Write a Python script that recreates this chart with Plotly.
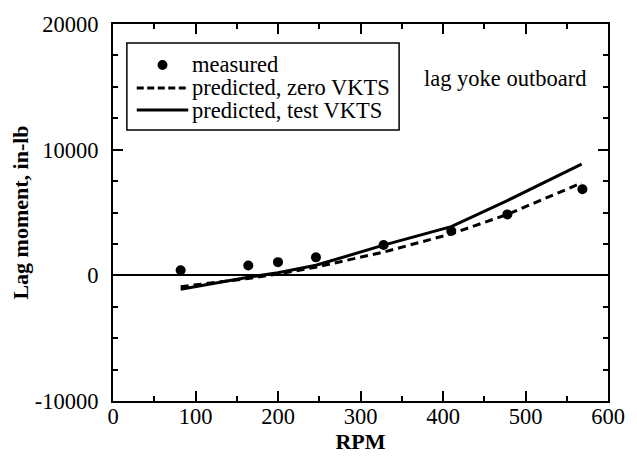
import plotly.graph_objects as go

rpm_measured = [82, 164, 200, 246, 328, 410, 478, 569]
moment_measured = [400, 780, 1050, 1430, 2420, 3530, 4850, 6850]

rpm_pred = [82, 164, 200, 246, 328, 410, 478, 568]
moment_zero_vkts = [-900, -250, 100, 650, 1850, 3300, 4850, 7350]
moment_test_vkts = [-1100, -150, 200, 800, 2400, 3870, 5950, 8850]

series_names = ["measured", "predicted, zero VKTS", "predicted, test VKTS"]

x_tickvals = [0, 100, 200, 300, 400, 500, 600]
x_ticktext = ["0", "100", "200", "300", "400", "500", "600"]
y_tickvals = [-10000, 0, 10000, 20000]
y_ticktext = ["-10000", "0", "10000", "20000"]

FONT = "Liberation Serif"
DASH = "8px,5px"

fig = go.Figure()
fig.add_trace(go.Scatter(x=rpm_measured, y=moment_measured, mode="markers",
                         name=series_names[0],
                         marker=dict(color="black", size=10, symbol="circle")))
fig.add_trace(go.Scatter(x=rpm_pred, y=moment_zero_vkts, mode="lines",
                         name=series_names[1],
                         line=dict(color="black", width=3, dash=DASH)))
fig.add_trace(go.Scatter(x=rpm_pred, y=moment_test_vkts, mode="lines",
                         name=series_names[2],
                         line=dict(color="black", width=3)))

axis_common = dict(
    showline=True, linecolor="black", linewidth=2, mirror="ticks",
    ticks="inside", ticklen=10, tickwidth=1.5, tickcolor="black",
    showgrid=False,
    tickfont=dict(family=FONT, size=22.5, color="black"),
)

fig.update_xaxes(range=[0, 600], tickmode="array", tickvals=x_tickvals, ticktext=x_ticktext,
                 zeroline=False, ticklabelstandoff=-6,
                 minor=dict(dtick=50, ticks="inside", ticklen=5, tickwidth=1.5, tickcolor="black"),
                 title=dict(text="<b>RPM</b>", font=dict(family=FONT, size=22, color="black"), standoff=3),
                 **axis_common)
fig.update_yaxes(range=[-10000, 20000], tickmode="array", tickvals=y_tickvals, ticktext=y_ticktext,
                 zeroline=True, zerolinecolor="black", zerolinewidth=1.5, ticklabelstandoff=8,
                 minor=dict(dtick=2500, ticks="inside", ticklen=5, tickwidth=1.5, tickcolor="black"),
                 title=dict(text="<b>Lag moment, in-lb</b>", font=dict(family=FONT, size=22, color="black"), standoff=0),
                 **axis_common)

# annotation
fig.add_annotation(text="lag yoke outboard", x=(425 - 113) / 500, y=(401 - 78) / 377,
                   xref="paper", yref="paper", xanchor="left", yanchor="middle",
                   showarrow=False, font=dict(family=FONT, size=22.5, color="black"))

# hand-built legend (compact row spacing as in the reference)
def px_x(p):
    return (p - 113) / 500

def px_y(p):
    return (401 - p) / 377

fig.add_shape(type="rect", xref="paper", yref="paper",
              x0=px_x(127), x1=px_x(402), y0=px_y(130), y1=px_y(43),
              line=dict(color="black", width=1.5), fillcolor="white", layer="above")
rows = [65, 88, 110]
fig.add_shape(type="circle", xref="paper", yref="paper",
              x0=px_x(158), x1=px_x(168), y0=px_y(rows[0] + 5), y1=px_y(rows[0] - 5),
              line=dict(color="black", width=0), fillcolor="black", layer="above")
fig.add_shape(type="line", xref="paper", yref="paper",
              x0=px_x(137), x1=px_x(189), y0=px_y(rows[1]), y1=px_y(rows[1]),
              line=dict(color="black", width=3, dash="7px,3.5px"), layer="above")
fig.add_shape(type="line", xref="paper", yref="paper",
              x0=px_x(137), x1=px_x(189), y0=px_y(rows[2]), y1=px_y(rows[2]),
              line=dict(color="black", width=3), layer="above")
for name, r in zip(series_names, rows):
    fig.add_annotation(text=name, x=px_x(191), y=px_y(r), xref="paper", yref="paper",
                       xanchor="left", yanchor="middle", showarrow=False,
                       font=dict(family=FONT, size=22.5, color="black"))

fig.update_layout(
    width=637, height=465,
    margin=dict(l=113, r=24, t=24, b=64),
    plot_bgcolor="white", paper_bgcolor="white",
    showlegend=False,
)

fig.write_html("out.html")
